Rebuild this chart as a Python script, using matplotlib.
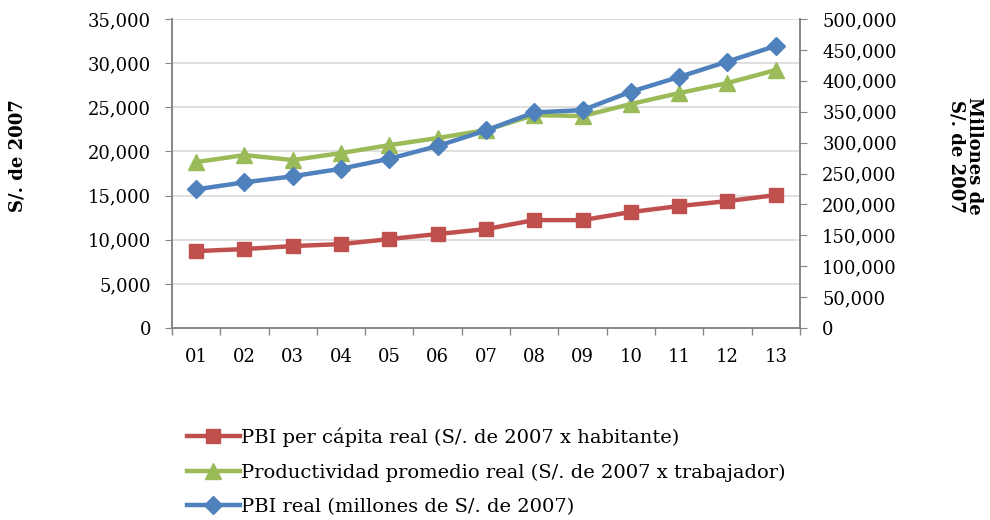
import matplotlib
matplotlib.use('Agg')
import matplotlib.pyplot as plt
from matplotlib.ticker import FuncFormatter, FixedLocator
from matplotlib.lines import Line2D

years = ['01', '02', '03', '04', '05', '06', '07', '08', '09', '10', '11', '12', '13']
pbi_per_capita = [8720, 8950, 9290, 9510, 10080, 10650, 11210, 12230, 12230, 13140, 13820, 14380, 15060]
productividad = [18800, 19590, 19030, 19820, 20720, 21520, 22420, 24120, 24010, 25370, 26610, 27750, 29220]
pbi_real = [224385, 235773, 245593, 257770, 273971, 294598, 319693, 348923, 352584, 382380, 406256, 431199, 456435]

red = '#C0504D'
green = '#9BBB59'
blue = '#4F81BD'
axis_gray = '#868686'

plt.rcParams['font.family'] = ['DejaVu Serif']

fig = plt.figure(figsize=(9.9, 5.2), dpi=100)
ax = fig.add_axes([0.1737, 0.369, 0.6343, 0.5945])
ax2 = ax.twinx()

x = list(range(len(years)))
ax.plot(x, pbi_per_capita, color=red, lw=3.2, marker='s', ms=10.5, zorder=3)
ax.plot(x, productividad, color=green, lw=3.2, marker='^', ms=11.5, zorder=3)
ax2.plot(x, pbi_real, color=blue, lw=3.2, marker='D', ms=9.5, zorder=3)

ax.set_xlim(-0.5, len(years) - 0.5)
ax.set_ylim(0, 35000)
ax2.set_ylim(0, 500000)
ax.set_yticks(range(0, 35001, 5000))
ax2.set_yticks(range(0, 500001, 50000))

fmt = FuncFormatter(lambda v, p: '{:,.0f}'.format(v))
ax.yaxis.set_major_formatter(fmt)
ax2.yaxis.set_major_formatter(fmt)

# category labels at centres, tick marks between categories
ax.set_xticks(x)
ax.set_xticklabels(years)
ax.xaxis.set_minor_locator(FixedLocator([i - 0.5 for i in range(len(years) + 1)]))
ax.tick_params(axis='x', which='major', length=0, pad=14, labelsize=13)
ax.tick_params(axis='x', which='minor', length=5, color=axis_gray, width=1)
ax.tick_params(axis='y', length=5, color=axis_gray, labelsize=13, pad=10)
ax2.tick_params(axis='y', length=5, color=axis_gray, labelsize=13, pad=11)

ax.grid(axis='y', color='#D9D9D9', lw=1.2)
ax.set_axisbelow(True)

for a in (ax, ax2):
    a.spines['top'].set_visible(False)
    for s in ('left', 'right', 'bottom'):
        a.spines[s].set_color(axis_gray)
        a.spines[s].set_linewidth(1.2)

fig.text(0.018, 0.70, 'S/. de 2007', rotation=90, ha='center', va='center',
         fontsize=13, fontweight='bold')
fig.text(0.975, 0.70, 'Millones de\nS/. de 2007', rotation=-90, ha='center', va='center',
         fontsize=13, fontweight='bold', linespacing=1.0)

handles = [
    Line2D([], [], color=red, lw=3.2, marker='s', ms=10.5),
    Line2D([], [], color=green, lw=3.2, marker='^', ms=11.5),
    Line2D([], [], color=blue, lw=3.2, marker='D', ms=9.5),
]
labels = [
    'PBI per cápita real (S/. de 2007 x habitante)',
    'Productividad promedio real (S/. de 2007 x trabajador)',
    'PBI real (millones de S/. de 2007)',
]
fig.legend(handles, labels, loc='upper left', bbox_to_anchor=(0.189, 0.178),
           frameon=False, fontsize=14, handlelength=2.7, handletextpad=0.05,
           labelspacing=0.85, borderpad=0, borderaxespad=0)

fig.savefig('out.png', dpi=100)
